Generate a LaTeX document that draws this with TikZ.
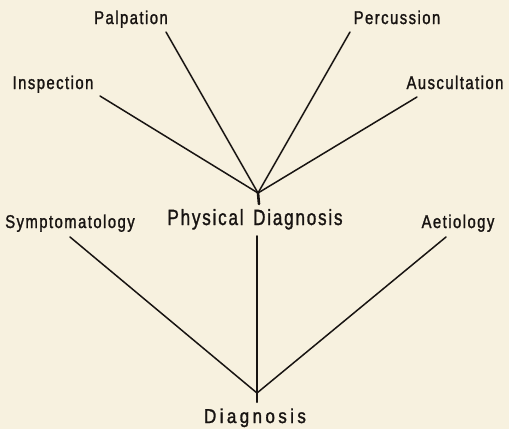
\documentclass[tikz,border=0pt]{standalone}
\usepackage{fontspec}
\setmainfont{Liberation Sans}
\newfontfamily\lblfont[FakeStretch=0.8,FakeBold=1.4,LetterSpace=8]{Liberation Sans}
\newfontfamily\physfont[FakeStretch=0.78,FakeBold=1.2,LetterSpace=8]{Liberation Sans}
\newfontfamily\diagfont[FakeStretch=0.85,FakeBold=1.4,LetterSpace=17]{Liberation Sans}
\definecolor{paper}{RGB}{247,241,223}
\definecolor{ink}{RGB}{24,20,18}
\begin{document}
\begin{tikzpicture}[x=1pt,y=-1pt,
  lbl/.style={text=ink,inner sep=0pt,anchor=base,font=\lblfont\fontsize{18.5}{20}\selectfont},
  big/.style={text=ink,inner sep=0pt,anchor=base,font=\physfont\fontsize{22}{24}\selectfont},
  root/.style={text=ink,inner sep=0pt,anchor=base,font=\diagfont\fontsize{20}{22}\selectfont},
  edge/.style={draw=ink,line width=1.5pt,line cap=round}]
\fill[paper] (0,0) rectangle (509,429);
\useasboundingbox (0,0) rectangle (509,429);
% labels
\node[lbl] (palp) at (131,24) {Palpation};
\node[lbl] (perc) at (397,24) {Percussion};
\node[lbl] (insp) at (53,89) {Inspection};
\node[lbl] (ausc) at (455,89) {Auscultation};
\node[lbl] (symp) at (70,228) {Symptomatology};
\node[big] (phys) at (255,225) {Physical\hspace{3pt} Diagnosis};
\node[lbl] (aeti) at (458,228) {Aetiology};
\node[root] (diag) at (255,423) {Diagnosis};
% junctions
\coordinate (hub) at (258,193);
\coordinate (hubend) at (259,204);
\coordinate (root) at (257,393);
\coordinate (rootend) at (257,402);
\coordinate (pinsp) at (100,96);
\coordinate (ppalp) at (166,32);
\coordinate (pperc) at (350,32);
\coordinate (pausc) at (417,97);
\coordinate (psymp) at (70,237);
\coordinate (paeti) at (446,237);
\coordinate (pphys) at (257,236);
% connectors
\draw[edge] (pinsp) -- (hub);
\draw[edge] (ppalp) -- (hub);
\draw[edge] (pperc) -- (hub);
\draw[edge] (pausc) -- (hub);
\draw[edge,line width=2.6pt] (hub) -- (hubend);
\draw[edge] (psymp) -- (root);
\draw[edge] (paeti) -- (root);
\draw[edge,line width=1.8pt] (pphys) -- (root);
\draw[edge,line width=2.4pt] (root) -- (rootend);
\end{tikzpicture}
\end{document}
